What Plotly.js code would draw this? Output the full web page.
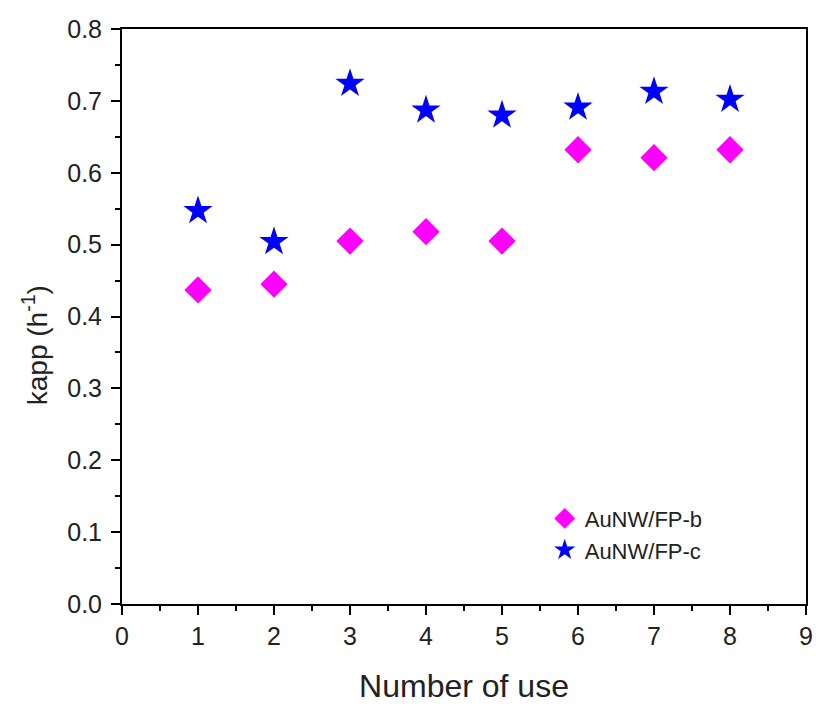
<!DOCTYPE html>
<html>
<head>
<meta charset="utf-8">
<script src="https://cdn.plot.ly/plotly-3.0.1.min.js"></script>
<style>html,body{margin:0;padding:0;background:#fff;}#chart{width:816px;height:704px;}</style>
</head>
<body>
<div id="chart"></div>
<script>
const uses = [1, 2, 3, 4, 5, 6, 7, 8];
const kappB = [0.437, 0.445, 0.505, 0.518, 0.505, 0.632, 0.621, 0.632];
const kappC = [0.547, 0.504, 0.724, 0.687, 0.680, 0.691, 0.713, 0.702];
const nameB = 'AuNW/FP-b';
const nameC = 'AuNW/FP-c';
const xTitle = 'Number of use';
const yTitle = 'kapp (h<sup>-1</sup>)';

const font = 'Liberation Sans, Arial, sans-serif';

const traces = [
  {x: uses, y: kappB, name: nameB, type: 'scatter', mode: 'markers',
   marker: {symbol: 'diamond', size: 21, color: '#ff00ff', line: {width: 0}}},
  {x: uses, y: kappC, name: nameC, type: 'scatter', mode: 'markers',
   marker: {symbol: 'star', size: 22, color: '#0000ff', line: {width: 0}}}
];

const axisCommon = {
  showgrid: false, zeroline: false, showline: true, linecolor: '#000', linewidth: 2,
  mirror: true, ticks: 'outside', ticklen: 9, tickwidth: 2, tickcolor: '#000',
  tickfont: {family: font, size: 25, color: '#222'},
  minor: {ticks: 'outside', ticklen: 5, tickwidth: 2, tickcolor: '#000'}
};

const layout = {
  width: 816, height: 704,
  margin: {l: 122, r: 10, t: 29, b: 100},
  paper_bgcolor: '#fff', plot_bgcolor: '#fff',
  showlegend: true,
  legend: {x: 0.618, y: 0.185, xanchor: 'left', yanchor: 'top',
           font: {family: font, size: 22, color: '#222'}, bgcolor: 'rgba(0,0,0,0)'},
  xaxis: Object.assign({}, axisCommon, {
    range: [0, 9], dtick: 1, tick0: 0,
    minor: Object.assign({}, axisCommon.minor, {dtick: 0.5}),
    title: {text: xTitle, font: {family: font, size: 32, color: '#222'}, standoff: 32}
  }),
  yaxis: Object.assign({}, axisCommon, {
    range: [0, 0.8], dtick: 0.1, tick0: 0, tickformat: '.1f', ticklabelstandoff: 4,
    minor: Object.assign({}, axisCommon.minor, {dtick: 0.05})
  }),
  annotations: [{
    text: yTitle, xref: 'paper', yref: 'paper', x: 0, y: 0.45,
    xanchor: 'center', yanchor: 'middle', xshift: -87, textangle: -90, showarrow: false,
    font: {family: font, size: 28, color: '#222'}
  }]
};

Plotly.newPlot('chart', traces, layout, {displayModeBar: false, staticPlot: true});
</script>
</body>
</html>
